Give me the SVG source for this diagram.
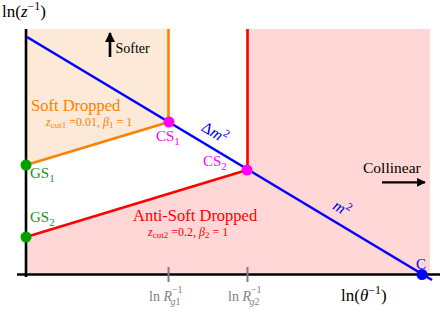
<svg xmlns="http://www.w3.org/2000/svg" width="440" height="310" viewBox="0 0 440 310" font-family="'Liberation Serif', 'DejaVu Serif', serif">
<style>
text{font-family:'Liberation Serif','DejaVu Serif',serif}
.it{font-style:italic}
.blue{fill:#0000ff}
.mag{fill:#ff00ff}
.grn{fill:#1f8f1f}
.org{fill:#ff8000}
.red{fill:#ff0000}
.gray{fill:#808080}
.ln{fill:none;stroke-width:2.6}
</style>
<defs>
<marker id="ah" viewBox="0 0 10 10" refX="9" refY="5" markerWidth="4" markerHeight="4" orient="auto" markerUnits="strokeWidth">
<path d="M0,0 L10,5 L0,10 z" fill="#000"/>
</marker>
</defs>
<rect width="440" height="310" fill="#fff"/>
<polygon points="26,29 168.5,29 168.5,122 26,165" fill="#fde9d7"/>
<polygon points="26,237 247.5,170 247.5,29 430,29 430,274 26,274" fill="#ffd7d7"/>
<g id="axes" stroke="#000" stroke-width="2.6">
<line x1="26" y1="29" x2="26" y2="277"/>
<line x1="17" y1="274.5" x2="440" y2="274.5"/>
</g>
<g id="ticks" stroke="#808080" stroke-width="2">
<line x1="168.5" y1="267" x2="168.5" y2="282"/>
<line x1="247.5" y1="267" x2="247.5" y2="282"/>
</g>
<g id="connectors">
<line class="ln" stroke="#ff8000" x1="168.5" y1="29" x2="168.5" y2="122"/>
<line class="ln" stroke="#ff8000" x1="26" y1="165" x2="169" y2="122"/>
<line class="ln" stroke="#ff0000" x1="247.5" y1="29" x2="247.5" y2="170"/>
<line class="ln" stroke="#ff0000" x1="26" y1="237" x2="247" y2="170"/>
<line class="ln" stroke="#0000ff" x1="27" y1="37" x2="432" y2="280"/>
</g>
<line x1="110" y1="57" x2="110" y2="33" stroke="#000" stroke-width="2.6" marker-end="url(#ah)"/>
<line x1="382" y1="182.3" x2="425" y2="182.3" stroke="#000" stroke-width="2.2" marker-end="url(#ah)"/>
<g id="GS1"><circle cx="26" cy="165" r="5.5" fill="#00a000"/>
<text x="30" y="178" font-size="15" class="grn">GS<tspan font-size="11" dy="4">1</tspan></text></g>
<g id="GS2"><circle cx="26" cy="237" r="5.5" fill="#00a000"/>
<text x="30" y="222" font-size="15" class="grn">GS<tspan font-size="11" dy="4">2</tspan></text></g>
<g id="CS1"><circle cx="169" cy="122" r="5.5" fill="#ff00ff"/>
<text x="156" y="141" font-size="15" class="mag">CS<tspan font-size="11" dy="4">1</tspan></text></g>
<g id="CS2"><circle cx="247" cy="170" r="5.5" fill="#ff00ff"/>
<text x="203" y="166" font-size="15" class="mag">CS<tspan font-size="11" dy="4">2</tspan></text></g>
<g id="C"><circle cx="422" cy="274.5" r="5.5" fill="#0000ff"/>
<text x="416" y="269" font-size="15" class="blue">C</text></g>
<text x="2" y="17" font-size="17">ln(<tspan class="it">z</tspan><tspan font-size="12" dy="-7">−1</tspan><tspan dy="7">)</tspan></text>
<text x="341" y="301" font-size="17">ln(<tspan class="it">θ</tspan><tspan font-size="12" dy="-7">−1</tspan><tspan dy="7">)</tspan></text>
<text x="115.5" y="53" font-size="14">Softer</text>
<text x="363" y="173" font-size="15.5">Collinear</text>
<text x="31" y="111" font-size="16.5" class="org">Soft Dropped</text>
<text x="46" y="126" font-size="12" class="org"><tspan class="it">z</tspan><tspan font-size="9" dy="2">cut1</tspan><tspan dy="-2"> =0.01, </tspan><tspan class="it">β</tspan><tspan font-size="9" dy="2">1</tspan><tspan dy="-2"> = 1</tspan></text>
<text x="133" y="221" font-size="16.5" class="red">Anti-Soft Dropped</text>
<text x="148" y="236" font-size="12" class="red"><tspan class="it">z</tspan><tspan font-size="9" dy="2">cut2</tspan><tspan dy="-2"> =0.2, </tspan><tspan class="it">β</tspan><tspan font-size="9" dy="2">2</tspan><tspan dy="-2"> = 1</tspan></text>
<text transform="translate(212,137) rotate(31)" text-anchor="middle" font-size="16" class="blue">Δ<tspan class="it">m</tspan><tspan font-size="11" dy="-7">2</tspan></text>
<text transform="translate(339,213) rotate(31)" text-anchor="middle" font-size="16" class="blue"><tspan class="it">m</tspan><tspan font-size="11" dy="-7">2</tspan></text>
<text x="149" y="301" font-size="14" class="gray">ln <tspan class="it">R</tspan><tspan font-size="10" dy="-8">−1</tspan><tspan font-size="10" class="it" dx="-12" dy="12">g</tspan><tspan font-size="10" dy="0">1</tspan></text>
<text x="228" y="301" font-size="14" class="gray">ln <tspan class="it">R</tspan><tspan font-size="10" dy="-8">−1</tspan><tspan font-size="10" class="it" dx="-12" dy="12">g</tspan><tspan font-size="10" dy="0">2</tspan></text>
</svg>
